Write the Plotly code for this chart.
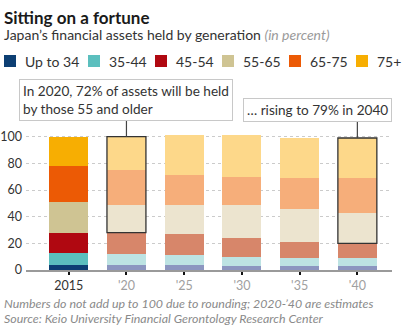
import plotly.graph_objects as go

# Share of Japan's financial assets by age group of holder (percent)
years = ["2015", "2020", "2025", "2030", "2035", "2040"]
tick_labels = ["2015", "'20", "'25", "'30", "'35", "'40"]
groups = ["Up to 34", "35-44", "45-54", "55-65", "65-75", "75+"]

up_to_34 = [4, 4, 4, 3, 3, 3]
age_35_44 = [9, 8, 7, 7, 6, 6]
age_45_54 = [15, 16, 16, 14, 12, 11]
age_55_65 = [23, 21, 22, 25, 25, 23]
age_65_75 = [27, 26, 22, 21, 23, 26]
age_75_up = [22, 25, 30, 31, 30, 30]

series = [up_to_34, age_35_44, age_45_54, age_55_65, age_65_75, age_75_up]

# Actual year in full colour, estimates in a lighter tint
full_colors = ["#0d3f73", "#5bbfbe", "#b00811", "#cfc493", "#ec5a05", "#f7ae02"]
light_colors = ["#8c96c0", "#bde3e3", "#d7866a", "#ece4cf", "#f6ae7a", "#fdd88a"]

FONT = "Lato"
x_range = [-0.74, 5.6]
bar_gap = 0.325

fig = go.Figure()
for name, vals, fc, lc in zip(groups, series, full_colors, light_colors):
    fig.add_trace(go.Bar(
        x=years, y=vals, name=name,
        marker=dict(color=[fc] + [lc] * (len(years) - 1), line=dict(width=0)),
        showlegend=False, hoverinfo="skip",
    ))

# Outline the 55-and-older block for the highlighted years
half = (1 - bar_gap) / 2
for yr in ["2020", "2040"]:
    i = years.index(yr)
    under_55 = up_to_34[i] + age_35_44[i] + age_45_54[i]
    total = sum(s[i] for s in series)
    fig.add_shape(type="rect", xref="x", yref="y",
                  x0=i - half, x1=i + half, y0=under_55, y1=total,
                  line=dict(color="#333333", width=1.3), fillcolor="rgba(0,0,0,0)")

W, H = 403, 326
ml, mr, mt, mb = 26, 11, 130, 56
pw, ph = W - ml - mr, H - mt - mb

def px_x(px):
    return (px - ml) / pw

def px_y(py):
    return (H - mb - py) / ph

# Callout boxes with leader lines down to the bars
def xpaper(i):
    return (i - x_range[0]) / (x_range[1] - x_range[0])

callouts = [
    ("2020", "In 2020, 72% of assets will be held<br>by those 55 and older", 19, 121),
    ("2040", "… rising to 79% in 2040", 243, 122),
]
y_max = 105
for yr, text, bx, by in callouts:
    i = years.index(yr)
    total = sum(s[i] for s in series)
    fig.add_shape(type="line", xref="paper", yref="paper",
                  x0=xpaper(i), x1=xpaper(i), y0=total / y_max, y1=px_y(by),
                  line=dict(color="#444444", width=1.2))
    fig.add_annotation(xref="paper", yref="paper", x=px_x(bx), y=px_y(by),
                       xanchor="left", yanchor="bottom", align="left",
                       text=text, showarrow=False,
                       font=dict(family=FONT, size=13.6, color="#333333"),
                       bgcolor="white", bordercolor="#c8c8c8", borderwidth=1,
                       borderpad=3)

# Legend row drawn as swatches and labels
legend_x = [4, 88, 155, 222, 289, 356]
for lx, name, col in zip(legend_x, groups, full_colors):
    fig.add_shape(type="rect", xref="paper", yref="paper",
                  x0=px_x(lx), x1=px_x(lx + 12), y0=px_y(67), y1=px_y(55),
                  fillcolor=col, line=dict(width=0))
    fig.add_annotation(xref="paper", yref="paper", x=px_x(lx + 19), y=px_y(61),
                       xanchor="left", yanchor="middle", text=name, showarrow=False,
                       font=dict(family=FONT, size=14, color="#333333"))

# Titles and footnotes
fig.add_annotation(xref="paper", yref="paper", x=px_x(2), y=px_y(17),
                   xanchor="left", yanchor="middle", showarrow=False,
                   text="<b>Sitting on a fortune</b>",
                   font=dict(family=FONT, size=17, color="#1a1a1a"))
fig.add_annotation(xref="paper", yref="paper", x=px_x(2), y=px_y(34),
                   xanchor="left", yanchor="middle", showarrow=False,
                   text="Japan’s financial assets held by generation "
                        "<i><span style='color:#9a9a9a'>(in percent)</span></i>",
                   font=dict(family=FONT, size=14, color="#333333"))
fig.add_annotation(xref="paper", yref="paper", x=px_x(2), y=px_y(303),
                   xanchor="left", yanchor="middle", showarrow=False,
                   text="<i>Numbers do not add up to 100 due to rounding; 2020-’40 are estimates</i>",
                   font=dict(family=FONT, size=12.4, color="#8a8a8a"))
fig.add_annotation(xref="paper", yref="paper", x=px_x(2), y=px_y(318),
                   xanchor="left", yanchor="middle", showarrow=False,
                   text="<i>Source: Keio University Financial Gerontology Research Center</i>",
                   font=dict(family=FONT, size=12.4, color="#8a8a8a"))

tick_text = [tick_labels[0]] + [f"<span style='color:#a0a0a0'>{t}</span>" for t in tick_labels[1:]]

fig.update_layout(
    width=W, height=H,
    margin=dict(l=ml, r=mr, t=mt, b=mb, pad=0, autoexpand=False),
    barmode="stack", bargap=bar_gap,
    plot_bgcolor="white", paper_bgcolor="white",
    font=dict(family=FONT, color="#333333"),
    xaxis=dict(range=x_range, tickvals=years, ticktext=tick_text,
               ticks="outside", ticklen=3, tickwidth=2, tickcolor="#111111",
               showline=True, linecolor="#9a9a9a", linewidth=1.5,
               showgrid=False, tickfont=dict(size=12.5, color="#333333"),
               automargin=False, fixedrange=True),
    yaxis=dict(range=[0, y_max], tickvals=[0, 20, 40, 60, 80, 100],
               showgrid=True, gridcolor="rgba(190,190,190,0.8)", griddash="dot",
               gridwidth=1, zeroline=False, showline=False, ticks="",
               ticklabelstandoff=3, layer="above traces", automargin=False,
               tickfont=dict(size=12.5, color="#333333"), fixedrange=True),
)

fig.write_html("out.html")
